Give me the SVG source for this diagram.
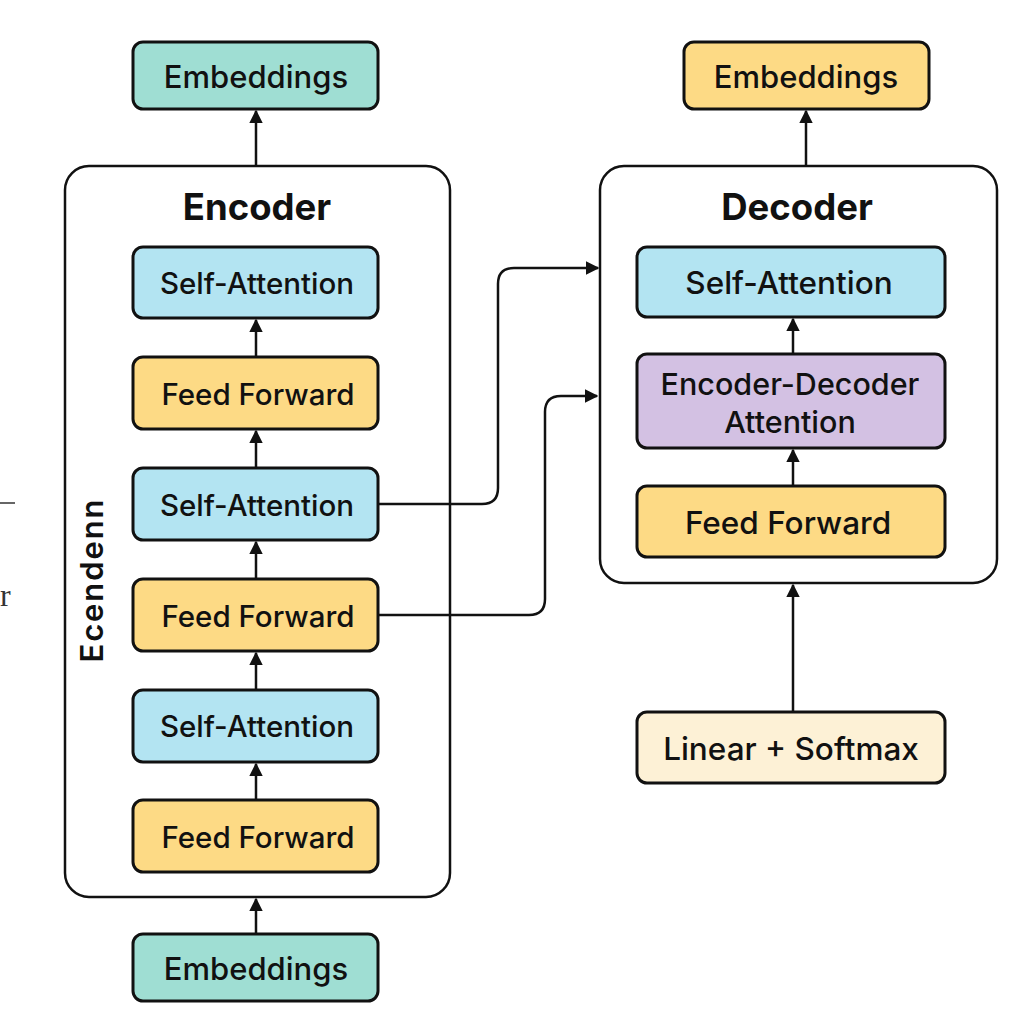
<svg xmlns="http://www.w3.org/2000/svg" width="1024" height="1024" viewBox="0 0 1024 1024">
<defs>
<marker id="ah" viewBox="0 0 10 10" refX="9" refY="5" markerWidth="5.5" markerHeight="5.5" orient="auto" markerUnits="strokeWidth">
<path d="M0,0 L10,5 L0,10 z" fill="#111"/>
</marker>
<style>
.box{stroke:#111;stroke-width:3}
.cont{fill:#fff;stroke:#111;stroke-width:2.5}
.lbl{font-family:Inter,"Liberation Sans",Arial,sans-serif;font-size:29.5px;font-weight:500;fill:#111;text-anchor:middle;dominant-baseline:central}
.lg{font-size:31px}
.dl{font-size:31.5px}
.ml{font-size:30.5px}
.ttl{font-family:Inter,"Liberation Sans",Arial,sans-serif;font-size:36.5px;font-weight:700;fill:#111;text-anchor:middle;dominant-baseline:central}
.teal{fill:#9fded3}
.blue{fill:#b3e4f2}
.yel{fill:#fdda85}
.pur{fill:#d3c1e3}
.cream{fill:#fdf1d6}
.con{fill:none;stroke:#111;stroke-width:2.5;marker-end:url(#ah)}
</style>
</defs>
<rect width="1024" height="1024" fill="#fff"/>

<g id="encoder">
<rect class="cont" x="65" y="166" width="385" height="731" rx="24"/>
<text class="ttl" x="257" y="207">Encoder</text>
</g>
<g id="decoder">
<rect class="cont" x="600" y="166" width="397" height="417" rx="24"/>
<text class="ttl" x="797" y="207">Decoder</text>
</g>

<g id="stray">
<text x="91" y="581" transform="rotate(-90 91 581)" font-family="Inter,'Liberation Sans',Arial,sans-serif" font-size="31" font-weight="600" fill="#111" text-anchor="middle" dominant-baseline="central" textLength="163">Ecendenn</text>
<line x1="0" y1="503" x2="15" y2="503" stroke="#333" stroke-width="1.5"/>
<text x="0" y="606" font-family="'Liberation Serif','DejaVu Serif',serif" font-size="32" fill="#333">r</text>
</g>

<g id="emb-top-left"><rect class="box teal" x="133" y="42" width="245" height="67" rx="10"/><text class="lbl lg" x="256" y="76">Embeddings</text></g>
<g id="enc-sa1"><rect class="box blue" x="133" y="247" width="245" height="71" rx="10"/><text class="lbl" x="257" y="283">Self-Attention</text></g>
<g id="enc-ff1"><rect class="box yel" x="133" y="357" width="245" height="72" rx="10"/><text class="lbl" x="258" y="394">Feed Forward</text></g>
<g id="enc-sa2"><rect class="box blue" x="133" y="468" width="245" height="72" rx="10"/><text class="lbl" x="257" y="505">Self-Attention</text></g>
<g id="enc-ff2"><rect class="box yel" x="133" y="579" width="245" height="72" rx="10"/><text class="lbl" x="258" y="616">Feed Forward</text></g>
<g id="enc-sa3"><rect class="box blue" x="133" y="690" width="245" height="72" rx="10"/><text class="lbl" x="257" y="726">Self-Attention</text></g>
<g id="enc-ff3"><rect class="box yel" x="133" y="800" width="245" height="72" rx="10"/><text class="lbl" x="258" y="837">Feed Forward</text></g>
<g id="emb-bottom"><rect class="box teal" x="133" y="934" width="245" height="67" rx="10"/><text class="lbl lg" x="256" y="968">Embeddings</text></g>

<g id="emb-top-right"><rect class="box yel" x="684" y="42" width="245" height="67" rx="10"/><text class="lbl lg" x="806" y="76">Embeddings</text></g>
<g id="dec-sa"><rect class="box blue" x="637" y="247" width="308" height="70" rx="10"/><text class="lbl dl" x="789" y="282">Self-Attention</text></g>
<g id="dec-eda"><rect class="box pur" x="637" y="354" width="308" height="94" rx="10"/><text class="lbl ml" x="790" y="383">Encoder-Decoder</text><text class="lbl ml" x="790" y="421">Attention</text></g>
<g id="dec-ff"><rect class="box yel" x="637" y="486" width="308" height="71" rx="10"/><text class="lbl dl" x="788" y="522">Feed Forward</text></g>
<g id="lin-soft"><rect class="box cream" x="637" y="712" width="308" height="71" rx="10"/><text class="lbl dl" x="791" y="748">Linear + Softmax</text></g>

<g id="connectors">
<path class="con" d="M256,166 V111"/>
<path class="con" d="M256,357 V320"/>
<path class="con" d="M256,468 V431"/>
<path class="con" d="M256,579 V542"/>
<path class="con" d="M256,690 V653"/>
<path class="con" d="M256,800 V764"/>
<path class="con" d="M256,934 V899"/>
<path class="con" d="M806,166 V111"/>
<path class="con" d="M793,354 V319"/>
<path class="con" d="M793,486 V450"/>
<path class="con" d="M793,712 V585"/>
<path class="con" d="M378,504 H482 Q498,504 498,488 V284 Q498,268 514,268 H598"/>
<path class="con" d="M378,615 H529 Q545,615 545,599 V412 Q545,396 561,396 H597"/>
</g>
</svg>
